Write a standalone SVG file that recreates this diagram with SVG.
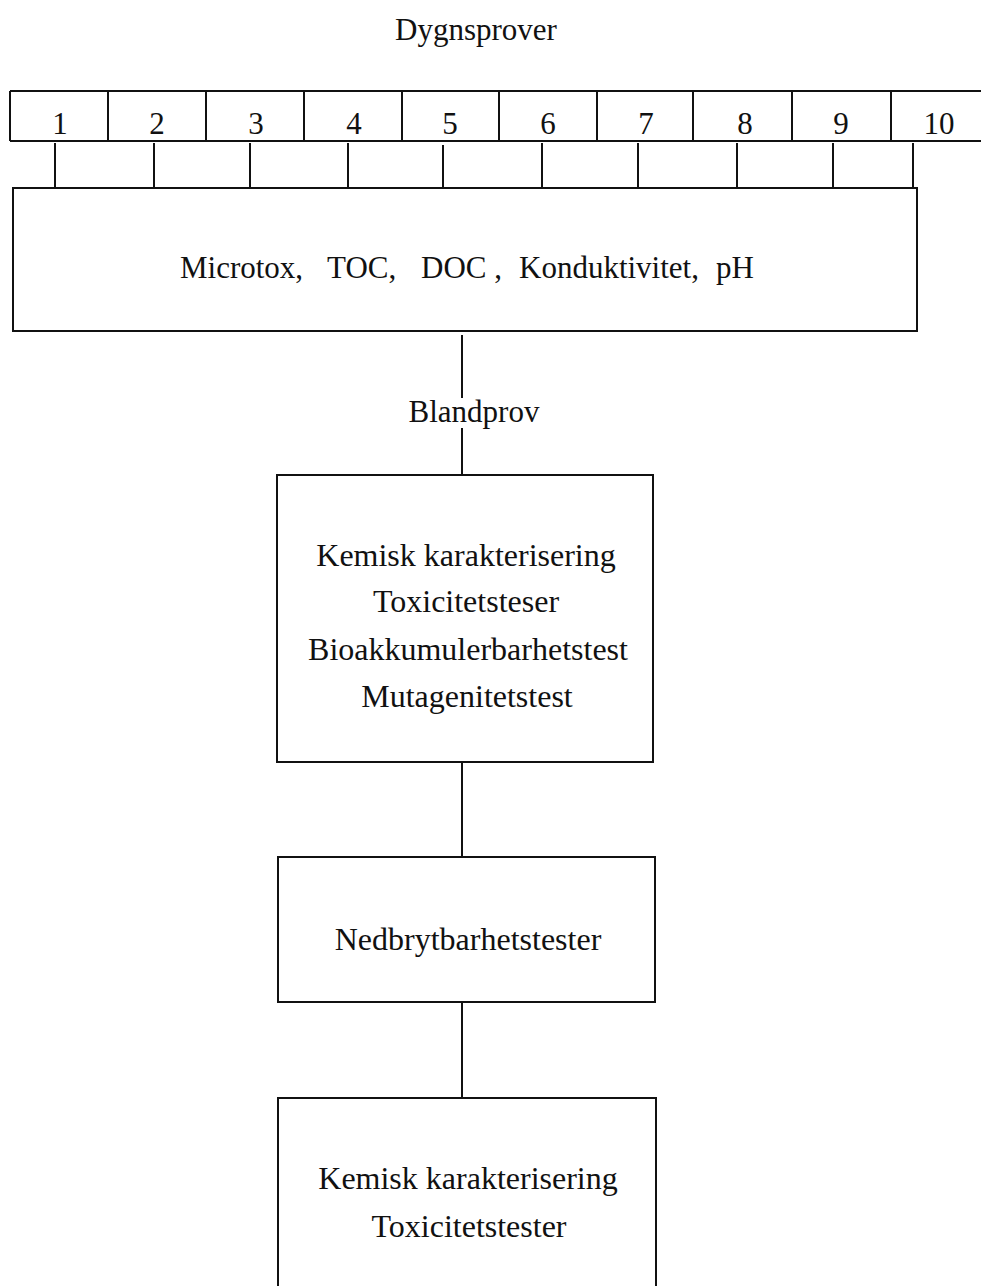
<svg xmlns="http://www.w3.org/2000/svg" width="981" height="1286" viewBox="0 0 981 1286">
<style>
.t{font-family:"Liberation Serif","Times New Roman",serif;font-size:31px;fill:#111;text-anchor:middle}
.l{font-family:"Liberation Serif","Times New Roman",serif;font-size:31px;fill:#111}
.k{font-size:32px}
.b{fill:none;stroke:#111;stroke-width:2}
.c{stroke:#111;stroke-width:2;fill:none}
</style>
<rect width="981" height="1286" fill="#fff"/>
<g id="title"><text class="t" x="476" y="40">Dygnsprover</text></g>
<g id="samples">
<path class="b" d="M10,91 H981 M10,141 H981 M10,91 V141 M108,91 V141 M206,91 V141 M304,91 V141 M402,91 V141 M499,91 V141 M597,91 V141 M693,91 V141 M792,91 V141 M891,91 V141"/>
<text class="t" x="60" y="134">1</text>
<text class="t" x="157" y="134">2</text>
<text class="t" x="256" y="134">3</text>
<text class="t" x="354" y="134">4</text>
<text class="t" x="450" y="134">5</text>
<text class="t" x="548" y="134">6</text>
<text class="t" x="646" y="134">7</text>
<text class="t" x="745" y="134">8</text>
<text class="t" x="841" y="134">9</text>
<text class="t" x="939" y="134">10</text>
</g>
<g id="analys">
<rect class="b" x="13" y="188" width="904" height="143"/>
<text class="l" y="278" xml:space="preserve"><tspan x="180">Microtox,</tspan><tspan x="327">TOC,</tspan><tspan x="421">DOC ,</tspan><tspan x="519">Konduktivitet,</tspan><tspan x="716">pH</tspan></text>
</g>
<g id="blandprov-label"><text class="t" x="474" y="422">Blandprov</text></g>
<g id="box2">
<rect class="b" x="277" y="475" width="376" height="287"/>
<text class="t k" x="466" y="566">Kemisk karakterisering</text>
<text class="t k" x="466" y="612">Toxicitetsteser</text>
<text class="t k" x="468" y="660">Bioakkumulerbarhetstest</text>
<text class="t k" x="467" y="707">Mutagenitetstest</text>
</g>
<g id="box3">
<rect class="b" x="278" y="857" width="377" height="145"/>
<text class="t k" x="468" y="950">Nedbrytbarhetstester</text>
</g>
<g id="box4">
<path class="b" d="M278,1300 V1098 H656 V1300"/>
<text class="t k" x="468" y="1189">Kemisk karakterisering</text>
<text class="t k" x="469" y="1237">Toxicitetstester</text>
</g>
<g id="connectors">
<path class="c" d="M55,143 V188 M154,143 V188 M250,143 V188 M348,143 V188 M443,145 V188 M542,143 V188 M638,143 V188 M737,143 V188 M833,143 V188 M913,143 V188"/>
<path class="c" d="M462,335 V398 M462,428 V475 M462,762 V857 M462,1002 V1098"/>
</g>
</svg>
